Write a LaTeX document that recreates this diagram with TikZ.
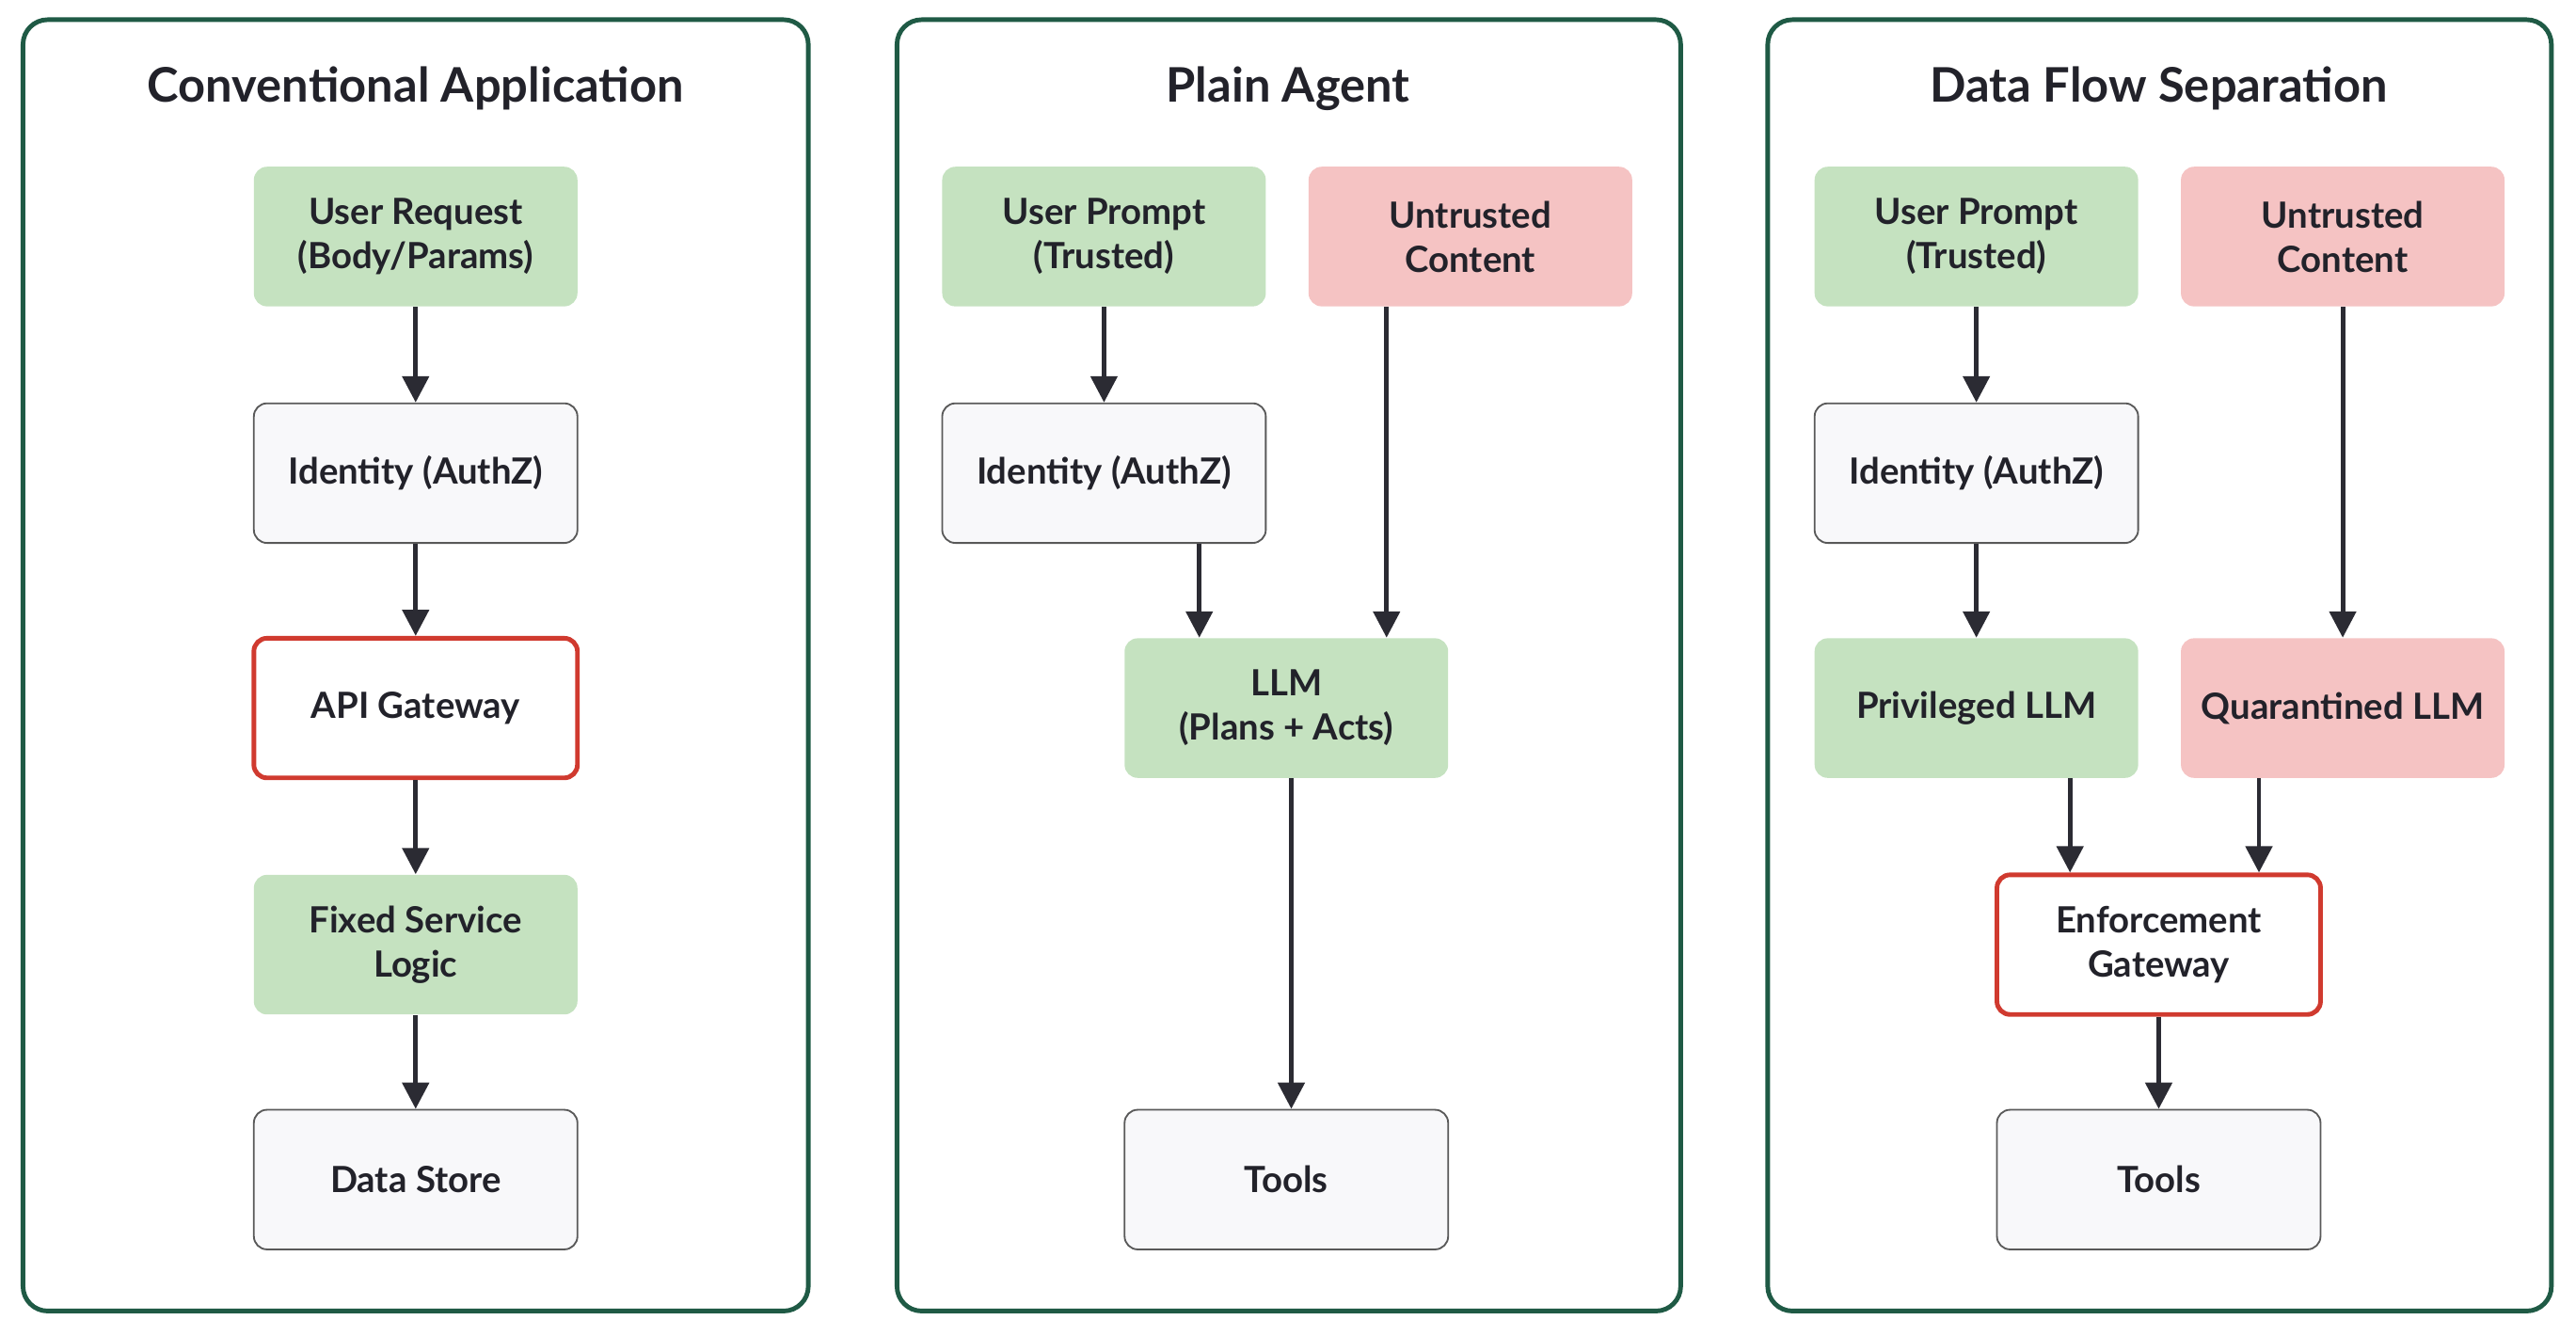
\documentclass[tikz,border=0pt]{standalone}
\usepackage{fontspec}
\setmainfont{Lato}
\usetikzlibrary{arrows.meta}
\definecolor{pg}{HTML}{1F5A45}
\definecolor{gf}{HTML}{C5E2C0}
\definecolor{rf}{HTML}{F5C3C3}
\definecolor{wf}{HTML}{F8F8FA}
\definecolor{rb}{HTML}{D03A2F}
\definecolor{ar}{HTML}{2B2B33}
\definecolor{tx}{HTML}{22222A}
\begin{document}
\begin{tikzpicture}[x=0.02cm,y=-0.02cm,
 panel/.style={draw=pg,line width=1.6pt,rounded corners=0.3cm},
 title/.style={font=\fontsize{16.5}{20}\selectfont\bfseries,text=tx},
 box/.style={minimum width=3.94cm,minimum height=1.7cm,inner xsep=1pt,rounded corners=0.16cm,align=center,font=\fontsize{12.5}{15.3}\selectfont\bfseries,text=tx},
 g/.style={box,fill=gf},
 r/.style={box,fill=rf},
 w/.style={box,fill=wf,draw=black!65,line width=0.6pt},
 gw/.style={box,fill=white,draw=rb,line width=1.6pt},
 arr/.style={draw=ar,line width=1.6pt,-{Triangle[length=0.32cm,width=0.32cm]}}]
\useasboundingbox (0,0) rectangle (1568,813);
\draw[panel] (14,12) rectangle (492,798);
\draw[panel] (546,12) rectangle (1023,798);
\draw[panel] (1076,12) rectangle (1553,798);
\node[title] (t1) at (253,54) {Conventional Application};
\node[title] (t2) at (784,54) {Plain Agent};
\node[title] (t3) at (1314,54) {Data Flow Separation};
% panel 1
\node[g] (a1) at (253,144) {User Request\\(Body/Params)};
\node[w] (a2) at (253,288) {Identity (AuthZ)};
\node[gw] (a3) at (253,431) {API Gateway};
\node[g] (a4) at (253,575) {Fixed Service\\Logic};
\node[w] (a5) at (253,718) {Data Store};
\draw[arr] (a1) -- (a2);
\draw[arr] (a2) -- (a3);
\draw[arr] (a3) -- (a4);
\draw[arr] (a4) -- (a5);
% panel 2
\node[g] (b1) at (672,144) {User Prompt\\(Trusted)};
\node[r] (b2) at (895,144) {Untrusted\\Content};
\node[w] (b3) at (672,288) {Identity (AuthZ)};
\node[g] (b4) at (783,431) {LLM\\(Plans + Acts)};
\node[w] (b5) at (783,718) {Tools};
\coordinate (xb1) at (730,0);
\coordinate (xb2) at (844,0);
\coordinate (xb3) at (786,0);
\draw[arr] (b1) -- (b3);
\draw[arr] (b3.south -| xb1) -- (b4.north -| xb1);
\draw[arr] (b2.south -| xb2) -- (b4.north -| xb2);
\draw[arr] (b4.south -| xb3) -- (b5.north -| xb3);
% panel 3
\node[g] (c1) at (1203,144) {User Prompt\\(Trusted)};
\node[r] (c2) at (1426,144) {Untrusted\\Content};
\node[w] (c3) at (1203,288) {Identity (AuthZ)};
\node[g] (c4) at (1203,431) {Privileged LLM};
\node[r] (c5) at (1426,431) {Quarantined LLM};
\node[gw] (c6) at (1314,575) {Enforcement\\Gateway};
\node[w] (c7) at (1314,718) {Tools};
\coordinate (xc1) at (1260,0);
\coordinate (xc2) at (1375,0);
\draw[arr] (c1) -- (c3);
\draw[arr] (c3) -- (c4);
\draw[arr] (c2) -- (c5);
\draw[arr] (c4.south -| xc1) -- (c6.north -| xc1);
\draw[arr] (c5.south -| xc2) -- (c6.north -| xc2);
\draw[arr] (c6) -- (c7);
\end{tikzpicture}
\end{document}
